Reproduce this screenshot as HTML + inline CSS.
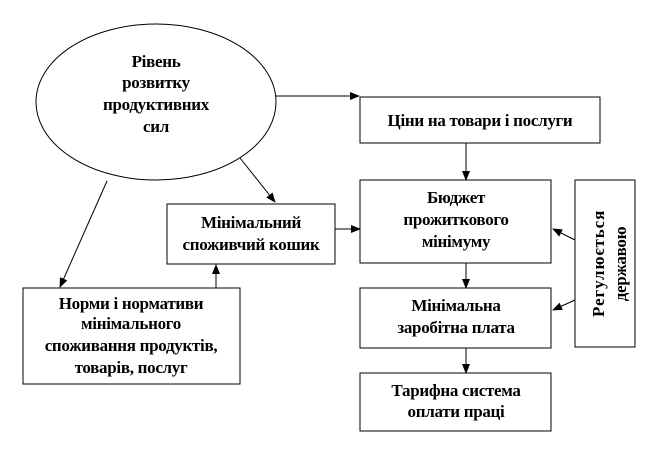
<!DOCTYPE html>
<html><head><meta charset="utf-8"><style>
html,body{margin:0;padding:0;background:#fff;}
svg{display:block;}
text{font-family:"Liberation Serif","DejaVu Serif",serif;font-weight:bold;font-size:17px;fill:#000;text-anchor:middle;letter-spacing:-0.3px;}
</style></head><body>
<svg width="648" height="456" viewBox="0 0 648 456" xmlns="http://www.w3.org/2000/svg">
<defs><marker id="a" markerWidth="10" markerHeight="8" refX="9" refY="4" orient="auto" markerUnits="userSpaceOnUse"><path d="M0,0 L10,4 L0,8 Z" fill="#000"/></marker></defs>
<g fill="none" stroke="#000" stroke-width="1">
<ellipse cx="156" cy="102" rx="120" ry="78"/>
<rect x="360" y="97" width="240" height="46"/>
<rect x="360" y="180" width="191" height="83"/>
<rect x="167" y="204" width="168" height="60"/>
<rect x="360" y="288" width="191" height="60"/>
<rect x="360" y="373" width="191" height="58"/>
<rect x="575" y="180" width="60" height="167"/>
<rect x="23" y="288" width="217" height="96"/>
<line x1="276" y1="96" x2="359" y2="96" marker-end="url(#a)"/>
<line x1="466" y1="143" x2="466" y2="180" marker-end="url(#a)"/>
<line x1="335" y1="229" x2="360" y2="229" marker-end="url(#a)"/>
<line x1="466" y1="263" x2="466" y2="288" marker-end="url(#a)"/>
<line x1="466" y1="348" x2="466" y2="373" marker-end="url(#a)"/>
<line x1="575" y1="240" x2="553" y2="229" marker-end="url(#a)"/>
<line x1="575" y1="300" x2="553" y2="310" marker-end="url(#a)"/>
<line x1="240" y1="158" x2="275" y2="202" marker-end="url(#a)"/>
<line x1="107" y1="181" x2="60" y2="287" marker-end="url(#a)"/>
<line x1="216" y1="288" x2="216" y2="265" marker-end="url(#a)"/>
</g>
<text x="156" y="67">Рівень</text>
<text x="156" y="88">розвитку</text>
<text x="156" y="110">продуктивних</text>
<text x="156" y="132">сил</text>
<text x="480" y="126">Ціни  на товари і послуги</text>
<text x="456" y="203">Бюджет</text>
<text x="456" y="225">прожиткового</text>
<text x="456" y="247">мінімуму</text>
<text x="251" y="228">Мінімальний</text>
<text x="251" y="250">споживчий кошик</text>
<text x="456" y="311">Мінімальна</text>
<text x="456" y="333">заробітна плата</text>
<text x="456" y="396">Тарифна система</text>
<text x="456" y="417">оплати праці</text>
<text x="131" y="309">Норми і нормативи</text>
<text x="131" y="329">мінімального</text>
<text x="131" y="351">споживання продуктів,</text>
<text x="131" y="373">товарів, послуг</text>
<text transform="translate(604,264) rotate(-90)" textLength="106" lengthAdjust="spacing">Регулюється</text>
<text transform="translate(626,264) rotate(-90)">державою</text>
</svg>
</body></html>
